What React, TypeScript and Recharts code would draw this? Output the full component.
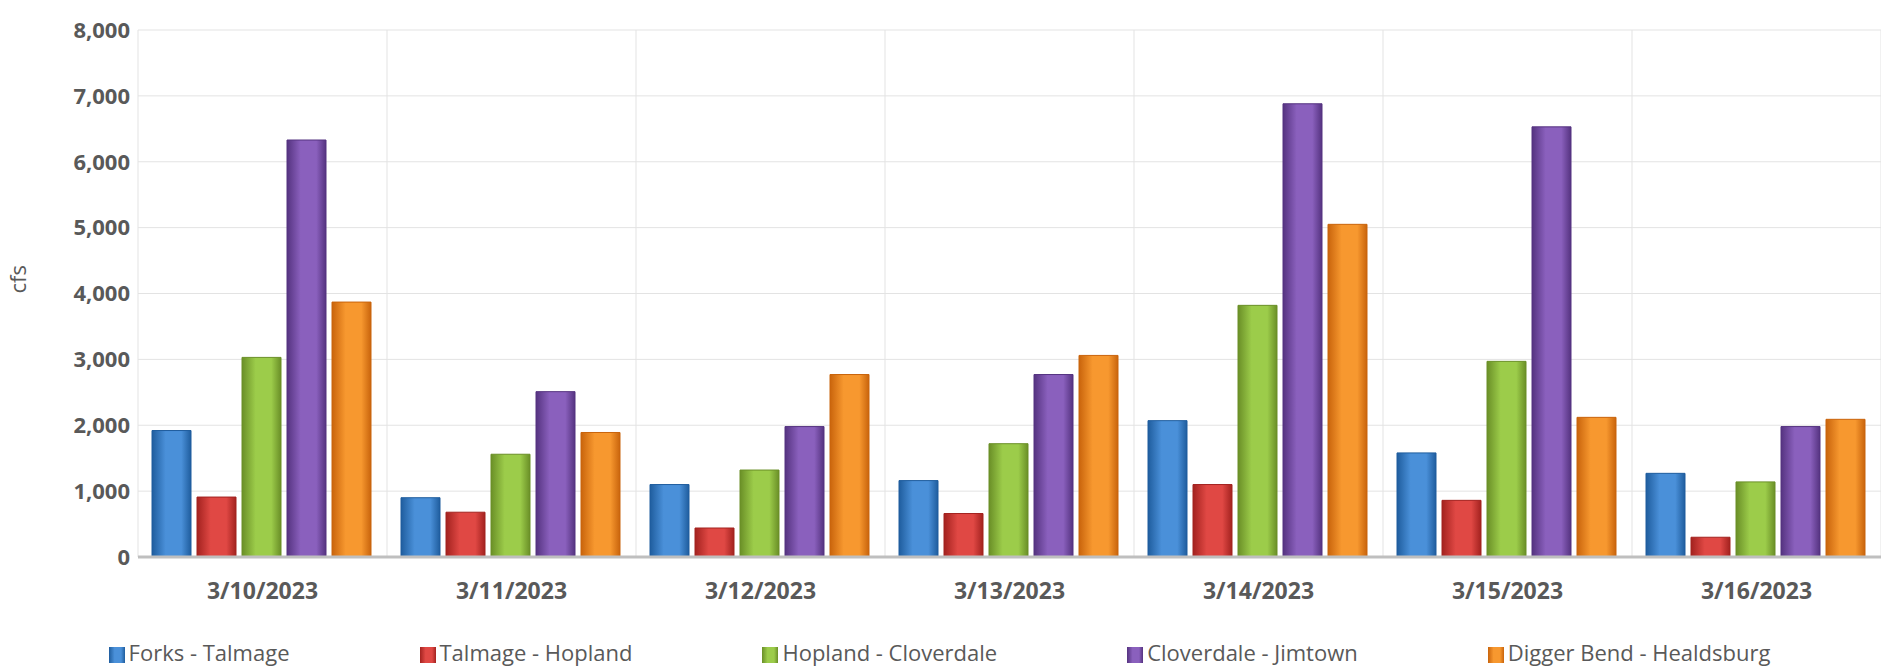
import { Bar, BarChart, CartesianGrid, Legend, XAxis, YAxis } from "recharts";

const dates = ["3/10/2023", "3/11/2023", "3/12/2023", "3/13/2023", "3/14/2023", "3/15/2023", "3/16/2023"];
const forksTalmage = [1920, 900, 1100, 1160, 2070, 1580, 1270];
const talmageHopland = [910, 680, 440, 660, 1100, 860, 300];
const hoplandCloverdale = [3030, 1560, 1320, 1720, 3820, 2970, 1140];
const cloverdaleJimtown = [6330, 2510, 1980, 2770, 6880, 6530, 1980];
const diggerHealdsburg = [3870, 1890, 2770, 3060, 5050, 2120, 2090];
const yTicks = [0, 1000, 2000, 3000, 4000, 5000, 6000, 7000, 8000];

const series = [
  { key: "ft", name: "Forks - Talmage", dark: "#1f5d9e", light: "#4a90d9" },
  { key: "th", name: "Talmage - Hopland", dark: "#a3221f", light: "#e04844" },
  { key: "hc", name: "Hopland - Cloverdale", dark: "#6a8f27", light: "#9ccc4a" },
  { key: "cj", name: "Cloverdale - Jimtown", dark: "#553380", light: "#8a60bd" },
  { key: "dh", name: "Digger Bend - Healdsburg", dark: "#c9640c", light: "#f7982f" },
];

const data = dates.map((d, i) => ({
  date: d,
  ft: forksTalmage[i],
  th: talmageHopland[i],
  hc: hoplandCloverdale[i],
  cj: cloverdaleJimtown[i],
  dh: diggerHealdsburg[i],
}));

const tickStyle = { fontSize: 22, fill: "#595959", fontWeight: 700 };

export default function App() {
  return (
    <div style={{ position: "absolute", left: 0, top: 0, fontFamily: "'Open Sans', sans-serif" }}>
      <BarChart
        width={1881}
        height={667}
        data={data}
        margin={{ top: 30, right: 0, left: 48, bottom: 0 }}
        barGap={6}
        barCategoryGap={14}
      >
        <defs>
          {series.map((s) => (
            <linearGradient key={s.key} id={`g-${s.key}`} x1="0" y1="0" x2="1" y2="0">
              <stop offset="0%" stopColor={s.dark} />
              <stop offset="35%" stopColor={s.light} />
              <stop offset="75%" stopColor={s.light} />
              <stop offset="100%" stopColor={s.dark} />
            </linearGradient>
          ))}
        </defs>
        <CartesianGrid
          stroke="#e3e3e3"
          verticalCoordinatesGenerator={({ offset }: any) =>
            dates.map((_, i) => offset.left + (offset.width * (i + 1)) / dates.length).concat([offset.left])
          }
        />
        <XAxis
          dataKey="date"
          tick={{ ...tickStyle, fontSize: 23 }}
          tickLine={false}
          axisLine={{ stroke: "#bfbfbf", strokeWidth: 3 }}
          tickMargin={20}
          height={80}
        />
        <YAxis
          domain={[0, 8000]}
          ticks={yTicks}
          tick={tickStyle}
          tickFormatter={(v: number) => v.toLocaleString("en-US")}
          tickLine={false}
          axisLine={false}
          width={90}
          label={{ value: "cfs", angle: -90, position: "insideLeft", offset: -30, fill: "#595959", fontSize: 22 }}
        />
        <Legend
          verticalAlign="bottom"
          iconType="square"
          iconSize={16}
          itemSorter={(item: any) => series.findIndex((s) => s.name === item.value)}
          wrapperStyle={{ fontSize: 22, color: "#595959", paddingLeft: 40 }}
          formatter={(v: string) => <span style={{ color: "#595959", marginRight: 120 }}>{v}</span>}
        />
        {series.map((s) => (
          <Bar
            key={s.key}
            dataKey={s.key}
            name={s.name}
            fill={`url(#g-${s.key})`}
            stroke={s.dark}
            strokeWidth={1}
            isAnimationActive={false}
          />
        ))}
      </BarChart>
    </div>
  );
}
